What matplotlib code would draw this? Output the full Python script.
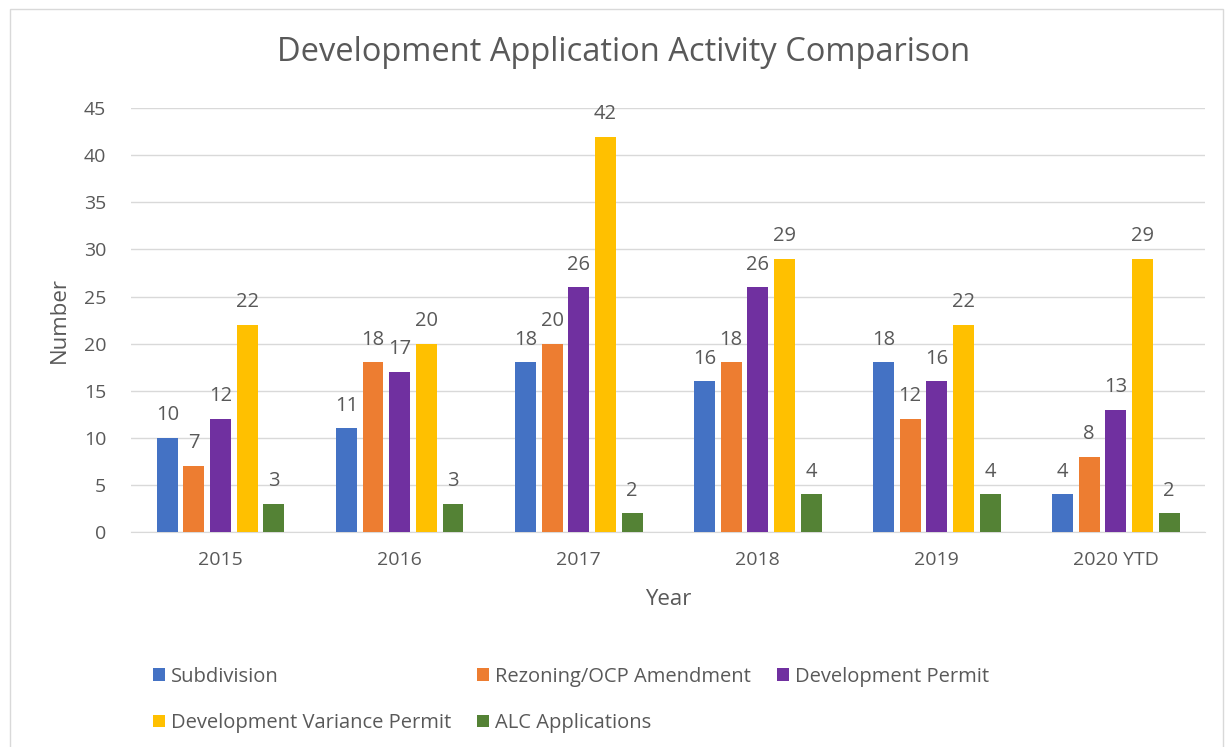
import numpy as np
import matplotlib.pyplot as plt
from matplotlib.patches import Rectangle

years = ["2015", "2016", "2017", "2018", "2019", "2020 YTD"]
series_names = ["Subdivision", "Rezoning/OCP Amendment", "Development Permit",
                "Development Variance Permit", "ALC Applications"]
subdivision = [10, 11, 18, 16, 18, 4]
rezoning = [7, 18, 20, 18, 12, 8]
dev_permit = [12, 17, 26, 26, 16, 13]
dev_variance = [22, 20, 42, 29, 22, 29]
alc = [3, 3, 2, 4, 4, 2]
colors = ["#4472C4", "#ED7D31", "#7030A0", "#FFC000", "#548235"]

plt.rcParams['font.family'] = ['Open Sans', 'DejaVu Sans']
text_col = "#595959"

fig = plt.figure(figsize=(12.25, 7.47), dpi=100)
ax = fig.add_axes([0.107, 0.288, 0.877, 0.567])

# light chart border like the spreadsheet export
fig.patches.append(Rectangle((0.008, -0.01), 0.99, 0.998, transform=fig.transFigure,
                             fill=False, edgecolor="#D9D9D9", linewidth=1))

x = np.arange(len(years))
slot = 0.149
width = 0.117
all_series = [subdivision, rezoning, dev_permit, dev_variance, alc]
handles = []
for i, vals in enumerate(all_series):
    pos = x + (i - 2) * slot
    b = ax.bar(pos, vals, width, color=colors[i], label=series_names[i], zorder=3)
    handles.append(b)
    for p, v in zip(pos, vals):
        ax.annotate(str(v), (p, v), xytext=(0, 9), textcoords="offset points",
                    ha="center", va="bottom", fontsize=14.5, color=text_col)

ax.set_xlim(-0.5, len(years) - 0.5)
ax.set_ylim(0, 45)
ax.set_yticks(range(0, 46, 5))
ax.set_xticks(x)
ax.set_xticklabels(years)
ax.tick_params(axis="both", length=0, labelsize=14, labelcolor=text_col)
ax.tick_params(axis="x", pad=14)
ax.tick_params(axis="y", pad=18)
ax.grid(axis="y", color="#D9D9D9", linewidth=1, zorder=0)
for s in ["top", "right", "left"]:
    ax.spines[s].set_visible(False)
ax.spines["bottom"].set_color("#D9D9D9")

ax.set_xlabel("Year", fontsize=16, color=text_col, labelpad=14)
ax.set_ylabel("Number", fontsize=16, color=text_col, labelpad=10)
fig.text(0.509, 0.93, "Development Application Activity Comparison", fontsize=23.5,
         color=text_col, ha="center", va="center")

# legend in row order: columns hold (0,3), (1,4), (2)
order = [0, 3, 1, 4, 2]
leg = fig.legend([handles[k] for k in order], [series_names[k] for k in order],
                 loc="upper left", bbox_to_anchor=(0.118, 0.118), ncol=3,
                 frameon=False, fontsize=14.5, handlelength=0.6, handleheight=0.6,
                 handletextpad=0.3, columnspacing=1.3, labelspacing=1.3,
                 borderaxespad=0)
for t in leg.get_texts():
    t.set_color(text_col)

fig.savefig("out.png", dpi=100)
